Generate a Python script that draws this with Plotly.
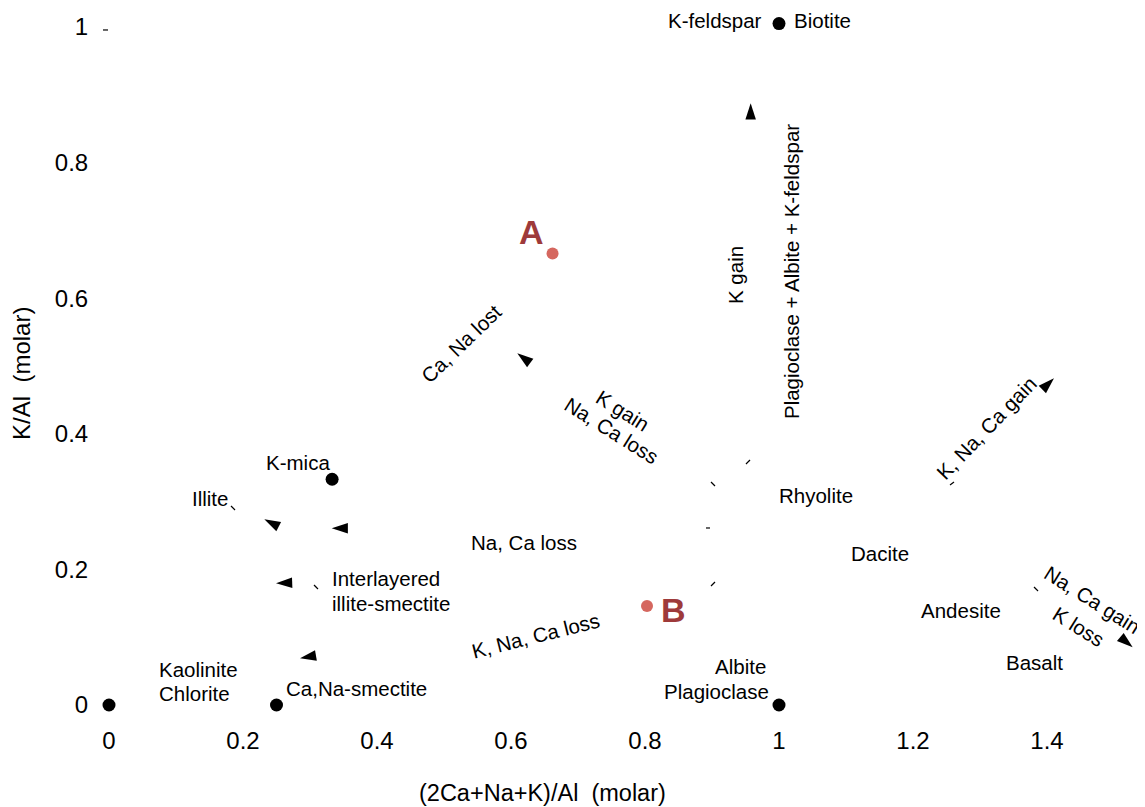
import plotly.graph_objects as go

# ---------------- data ----------------
# mineral end-member points (black dots)
mineral_x = [0.0, 0.25, 0.333, 1.0, 1.0]
mineral_y = [0.0, 0.0, 0.333, 0.0, 1.005]

# samples
sample_names = ["A", "B"]
sample_x = [0.662, 0.803]
sample_y = [0.666, 0.146]

# arrowheads (tip position and direction, degrees clockwise from up)
arrow_x = [0.9577, 0.6094, 1.4104, 1.5279, 0.2318, 0.3324, 0.2493, 0.2851]
arrow_y = [0.8875, 0.5187, 0.4818, 0.0851, 0.2739, 0.2606, 0.1795, 0.0689]
arrow_angle = [0, -53, 46, 130, -63, -90, -92, -100]

# small line fragments left in the figure
stub_x0 = [0.9507, 0.8985, 0.8910, 0.8985, 1.2552, 1.3806, 0.1821, 0.3060, -0.0090]
stub_y0 = [0.3555, 0.3289, 0.2611, 0.1755, 0.3245, 0.1740, 0.2935, 0.1770, 0.9956]
stub_x1 = [0.9567, 0.9045, 0.8970, 0.9045, 1.2612, 1.3866, 0.1881, 0.3119, -0.0015]
stub_y1 = [0.3614, 0.3230, 0.2611, 0.1814, 0.3289, 0.1681, 0.2876, 0.1711, 0.9956]

# text labels
label_text = [
    "K-feldspar", "Biotite", "K gain", "Plagioclase + Albite + K-feldspar",
    "Ca, Na lost", "K gain", "Na, Ca loss", "Na, Ca loss", "K, Na, Ca loss",
    "Rhyolite", "Dacite", "Andesite", "Basalt", "Na, Ca gain", "K loss",
    "K, Na, Ca gain", "K-mica", "Illite", "Interlayered", "illite-smectite",
    "Kaolinite", "Chlorite", "Ca,Na-smectite", "Albite", "Plagioclase",
]
label_x = [0.9776, 1.0194, 0.9343, 1.0179, 0.5254, 0.7672, 0.7507, 0.6194,
           0.6373, 1.0552, 1.1507, 1.2716, 1.3806, 1.4672, 1.4473, 1.3104,
           0.2821, 0.1507, 0.3299, 0.3299, 0.0716, 0.0716, 0.3701, 0.9836,
           0.9881]
label_y = [1.0103, 1.0103, 0.6342, 0.6386, 0.5339, 0.4351, 0.4056, 0.2404,
           0.1032, 0.3083, 0.2242, 0.1401, 0.0634, 0.1549, 0.1165, 0.4086,
           0.3584, 0.3053, 0.1873, 0.1504, 0.0531, 0.0177, 0.0251, 0.0575,
           0.0206]
label_angle = [0, 0, -90, -90, -44, 32, 32, 0, -14, 0, 0, 0, 0, 32, 32, -46,
               0, 0, 0, 0, 0, 0, 0, 0, 0]
label_xanchor = ["right", "left"] + ["center"] * 16 + ["left"] * 4 + \
                ["center", "right", "right"]

sample_label_x = [0.6313, 0.8418]
sample_label_y = [0.6976, 0.1401]

x_ticks = [0, 0.2, 0.4, 0.6, 0.8, 1, 1.2, 1.4]
x_ticktext = ["0", "0.2", "0.4", "0.6", "0.8", "1", "1.2", "1.4"]
y_ticks = [0, 0.2, 0.4, 0.6, 0.8, 1]
y_ticktext = ["0", "0.2", "0.4", "0.6", "0.8", "1"]

x_title = "(2Ca+Na+K)/Al\u00a0\u00a0(molar)"
y_title = "K/Al\u00a0\u00a0(molar)"

FONT = "Liberation Sans, Arial, sans-serif"

fig = go.Figure()

# stubs
for x0, y0, x1, y1 in zip(stub_x0, stub_y0, stub_x1, stub_y1):
    fig.add_trace(go.Scatter(x=[x0, x1], y=[y0, y1], mode="lines",
                             line=dict(color="black", width=1.2),
                             hoverinfo="skip", showlegend=False))

# arrowheads
fig.add_trace(go.Scatter(
    x=arrow_x, y=arrow_y, mode="markers",
    marker=dict(symbol="arrow", size=17, color="black", angle=arrow_angle,
                line=dict(width=0)),
    showlegend=False, hoverinfo="skip"))

# mineral dots
fig.add_trace(go.Scatter(
    x=mineral_x, y=mineral_y, mode="markers",
    marker=dict(size=13, color="black"),
    showlegend=False))

# samples
fig.add_trace(go.Scatter(
    x=sample_x, y=sample_y, mode="markers",
    marker=dict(size=12, color="#d5675f", line=dict(width=0)),
    text=sample_names, showlegend=False))

for t, x, y, a, xa in zip(label_text, label_x, label_y, label_angle, label_xanchor):
    fig.add_annotation(x=x, y=y, xref="x", yref="y", text=t, showarrow=False,
                       textangle=a, xanchor=xa, yanchor="middle",
                       font=dict(family=FONT, size=20.5, color="black"))

for t, x, y in zip(sample_names, sample_label_x, sample_label_y):
    fig.add_annotation(x=x, y=y, xref="x", yref="y", text="<b>" + t + "</b>",
                       showarrow=False, xanchor="center", yanchor="middle",
                       font=dict(family=FONT, size=34, color="#9e3a3a"))

# axis titles (placed off-centre as in the original)
fig.add_annotation(x=0.4265, y=-0.1162, xref="paper", yref="paper", text=x_title,
                   showarrow=False, xanchor="center", yanchor="middle",
                   font=dict(family=FONT, size=23.5, color="black"))
fig.add_annotation(x=-0.074, y=0.4864, xref="paper", yref="paper", text=y_title,
                   showarrow=False, xanchor="center", yanchor="middle", textangle=-90,
                   font=dict(family=FONT, size=24, color="black"))

# the page body adds an 8px offset, so the figure is sized to fit the window
fig.update_layout(
    width=1137, height=799,
    margin=dict(l=91, r=5, t=7, b=95),
    paper_bgcolor="white", plot_bgcolor="white",
    font=dict(family=FONT, color="black"),
    xaxis=dict(range=[-0.01493, 1.5388], showgrid=False, zeroline=False,
               showline=False, tickvals=x_ticks, ticktext=x_ticktext,
               ticks="outside", ticklen=7, tickcolor="rgba(0,0,0,0)",
               tickfont=dict(size=24, family=FONT), automargin=False),
    yaxis=dict(range=[-0.0103, 1.0177], showgrid=False, zeroline=False,
               showline=False, tickvals=y_ticks, ticktext=y_ticktext,
               ticks="outside", ticklen=5, tickcolor="rgba(0,0,0,0)",
               tickfont=dict(size=24, family=FONT), automargin=False),
)

fig.write_html("out.html")
